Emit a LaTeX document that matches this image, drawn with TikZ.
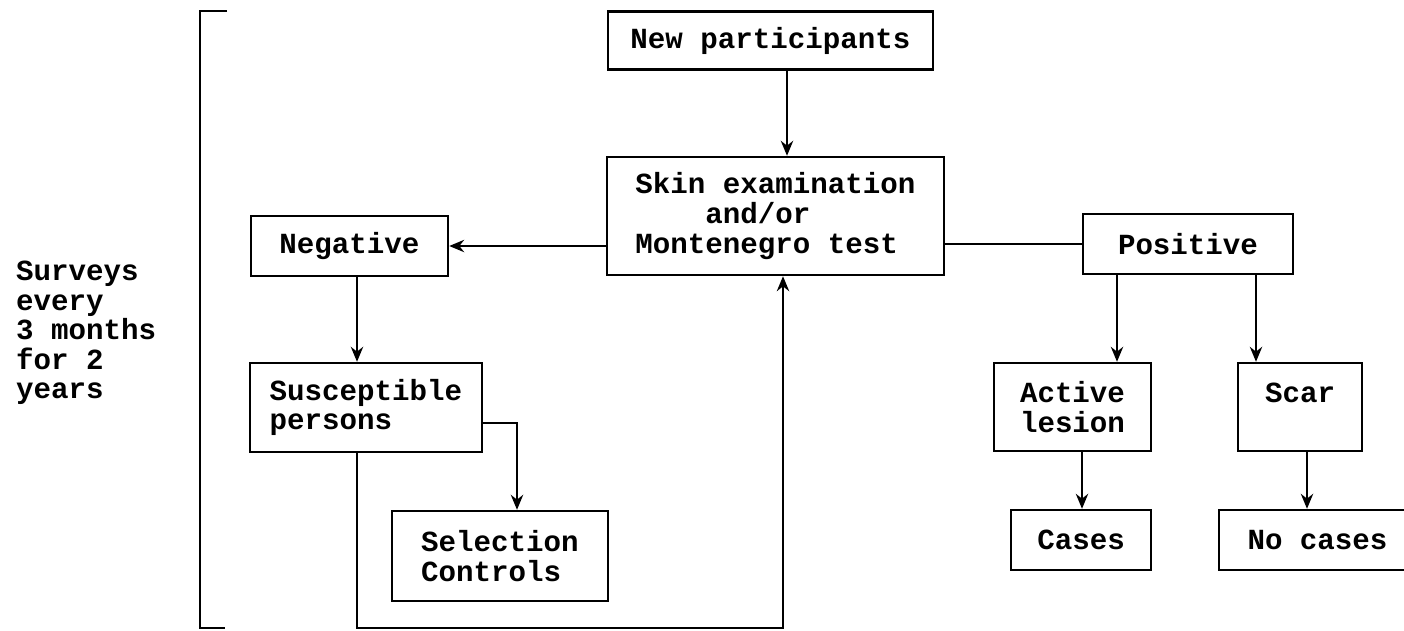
\documentclass[tikz,border=0pt]{standalone}
\usepackage{fontspec}
\setmonofont{Liberation Mono}
\usetikzlibrary{positioning,arrows.meta}

\begin{document}
\begin{tikzpicture}[x=0.02cm, y=-0.02cm, line width=1.4pt,
    >={Stealth[length=8.5pt,width=7pt]},
    box/.style={draw, inner sep=0pt, align=left,
        font=\ttfamily\bfseries\fontsize{16.6}{16.8}\selectfont}]
    \useasboundingbox (0,0) rectangle (1404,630);

    % boxes
    \node[box, minimum width=6.5cm, minimum height=1.16cm] (new) at (770.5,40.5) {New participants};
    \node[box, minimum width=6.74cm, minimum height=2.36cm] (skin) at (775.5,216) {Skin examination\\\ \ \ \ and/or\\Montenegro test};
    \node[box, minimum width=3.94cm, minimum height=1.2cm] (neg) at (349.5,246) {Negative};
    \node[box, minimum width=4.64cm, minimum height=1.78cm] (susc) at (366,407.5) {Susceptible\\persons};
    \node[box, minimum width=4.32cm, minimum height=1.8cm] (sel) at (500,556) {Selection\\Controls};
    \node[box, minimum width=4.2cm, minimum height=1.2cm] (pos) at (1188,244) {Positive};
    \node[box, minimum width=3.14cm, minimum height=1.76cm] (act) at (1072.5,407) {Active\\lesion};
    \node[box, minimum width=2.48cm, minimum height=1.76cm] (scar) at (1300,407) {Scar\\\mbox{}};
    \node[box, minimum width=2.8cm, minimum height=1.2cm] (cases) at (1081,540) {Cases};
    \node[box, minimum width=3.94cm, minimum height=1.2cm] (nocases) at (1317.5,540) {No cases};

    \node[box, draw=none, anchor=west] (surveys) at (15,333) {Surveys\\every\\3 months\\for 2\\years};

    % bracket
    \coordinate (btop) at (227,11);
    \coordinate (bbot) at (225,628);
    \draw (btop) -- (200,11) -- (200,628) -- (bbot);

    % connectors
    \draw[->] (new.south -| 787,0) -- (skin.north -| 787,0);
    \draw[->] (skin.west |- 0,246) -- (neg.east |- 0,246);
    \draw (skin.east |- 0,244) -- (pos.west |- 0,244);
    \draw[->] (neg.south -| 357,0) -- (susc.north -| 357,0);
    \draw[->] (susc.east |- 0,423) -| (sel.north -| 517,0);
    \draw[->] (susc.south -| 357,0) |- (783,628) -- (skin.south -| 783,0);
    \draw[->] (pos.south -| 1117,0) -- (act.north -| 1117,0);
    \draw[->] (pos.south -| 1256,0) -- (scar.north -| 1256,0);
    \draw[->] (act.south -| 1082,0) -- (cases.north -| 1082,0);
    \draw[->] (scar.south -| 1307,0) -- (nocases.north -| 1307,0);
\end{tikzpicture}
\end{document}
